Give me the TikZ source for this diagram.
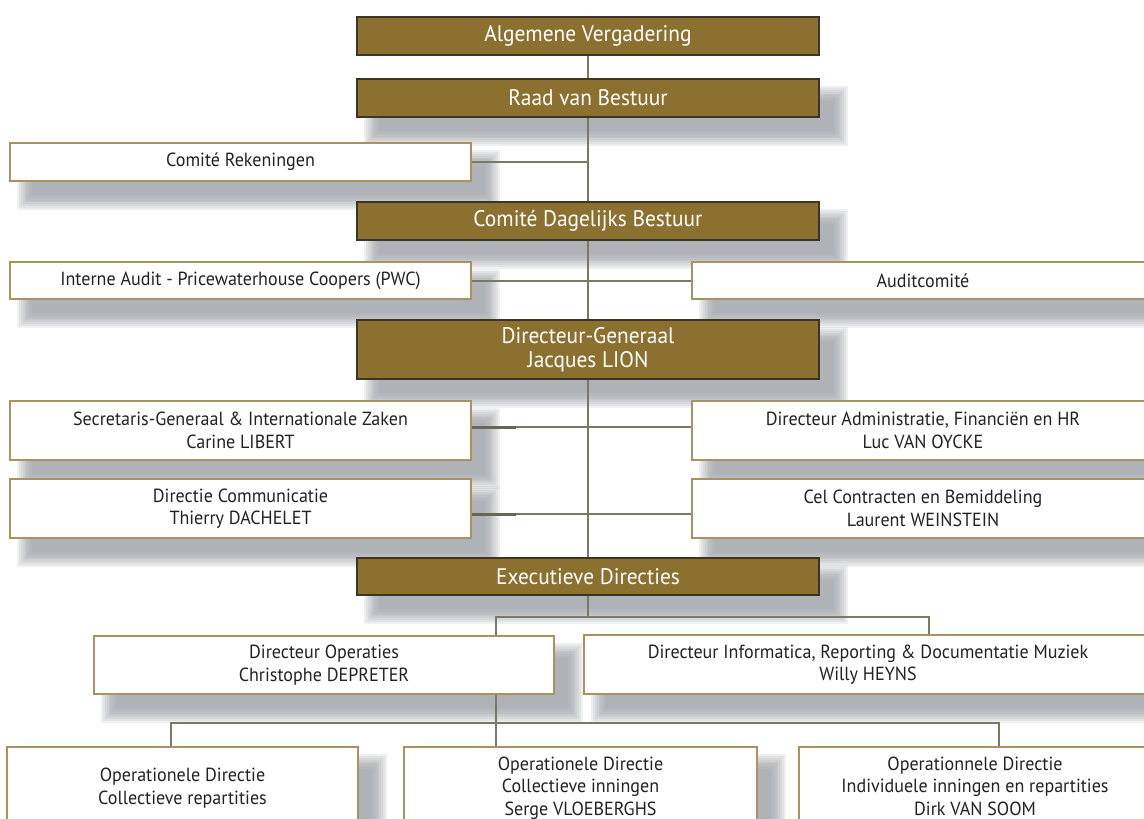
\documentclass[tikz,border=0pt]{standalone}
\usepackage{fontspec}
\setmainfont{PT Sans}[FakeStretch=0.95]
\usetikzlibrary{calc}
\pgfdeclarelayer{background}
\pgfsetlayers{background,main}
\definecolor{brownfill}{RGB}{140,112,48}
\definecolor{brownedge}{RGB}{60,52,38}
\definecolor{goldedge}{RGB}{168,148,98}
\definecolor{linec}{RGB}{124,120,102}
\definecolor{stubc}{RGB}{105,102,88}
\definecolor{shadowc}{RGB}{150,154,160}
\definecolor{textc}{RGB}{34,34,34}
\tikzset{
  brownbox/.style={draw=brownedge, line width=1.2pt, fill=brownfill, text=white,
    inner sep=0pt, align=center, font=\fontsize{22.5}{23.5}\selectfont},
  whitebox/.style={draw=goldedge, line width=1.3pt, fill=white, text=textc,
    inner sep=0pt, align=center, font=\fontsize{19}{22.5}\selectfont},
  lowbox/.style={whitebox, font=\fontsize{19}{22.5}\selectfont, text depth=0pt},
  conn/.style={draw=linec, line width=2pt},
  stub/.style={draw=stubc, line width=3pt},
}
\begin{document}
\begin{tikzpicture}[x=1pt,y=-1pt]
\useasboundingbox (0,0) rectangle (1144,819);
% brown boxes
\node[brownbox, minimum width=462pt, minimum height=38pt] (alg) at (588,36) {Algemene Vergadering};
\node[brownbox, minimum width=462pt, minimum height=38pt] (raad) at (588,98) {Raad van Bestuur};
\node[brownbox, minimum width=462pt, minimum height=38pt] (cdb) at (588,221) {Comité Dagelijks Bestuur};
\node[brownbox, minimum width=462pt, minimum height=59pt] (dg) at (588,349.5) {Directeur-Generaal\\Jacques LION};
\node[brownbox, minimum width=462pt, minimum height=37pt] (exe) at (588,576.5) {Executieve Directies};
% white boxes
\node[whitebox, minimum width=461pt, minimum height=38pt] (rek) at (240.5,162) {Comité Rekeningen};
\node[whitebox, minimum width=461pt, minimum height=37pt] (audit) at (240.5,280.5) {Interne Audit - Pricewaterhouse Coopers (PWC)};
\node[whitebox, minimum width=462pt, minimum height=37pt] (auditc) at (923,280.5) {Auditcomité};
\node[whitebox, minimum width=461pt, minimum height=59pt] (sec) at (240.5,430.5) {Secretaris-Generaal \& Internationale Zaken\\Carine LIBERT};
\node[whitebox, minimum width=462pt, minimum height=59pt] (adm) at (923,430.5) {Directeur Administratie, Financiën en HR\\Luc VAN OYCKE};
\node[whitebox, minimum width=461pt, minimum height=59pt] (com) at (240.5,508.5) {Directie Communicatie\\Thierry DACHELET};
\node[whitebox, minimum width=462pt, minimum height=59pt] (cel) at (923,508.5) {Cel Contracten en Bemiddeling\\Laurent WEINSTEIN};
\node[whitebox, minimum width=460pt, minimum height=58pt] (ops) at (324,665) {Directeur Operaties\\Christophe DEPRETER};
\node[whitebox, minimum width=568pt, minimum height=59pt] (inf) at (868,664.5) {Directeur Informatica, Reporting \& Documentatie Muziek\\Willy HEYNS};
\node[lowbox, minimum width=351pt, minimum height=78pt] (od1) at (182.5,786) {Operationele Directie\\Collectieve repartities};
\node[lowbox, minimum width=353pt, minimum height=78pt] (od2) at (580.5,786) {Operationele Directie\\Collectieve inningen\\Serge VLOEBERGHS};
\node[lowbox, minimum width=352pt, minimum height=78pt] (od3) at (975,786) {Operationnele Directie\\Individuele inningen en repartities\\Dirk VAN SOOM};
% shadows
\begin{pgfonlayer}{background}
\foreach \n in {raad,cdb,dg,exe,rek,audit,auditc,sec,adm,com,cel,ops,inf,od1,od2,od3}{
  \foreach \k in {0,...,8}{
    \fill[shadowc, opacity=0.15]
      ($(\n.north west)+(18-10+\k*1.8,18-10+\k*1.8)$) rectangle
      ($(\n.south east)+(18+10-\k*1.8,18+10-\k*1.8)$);
  }
}
\end{pgfonlayer}
% connectors
\draw[conn] (alg.south) -- (raad.north);
\draw[conn] (raad.south) -- (cdb.north);
\draw[conn] (cdb.south) -- (dg.north);
\draw[conn] (dg.south) -- (exe.north);
\draw[conn] (rek.east) -- (rek.east -| raad.south);
\draw[conn] (audit.east) -- (auditc.west);
\draw[conn] ([yshift=3.5pt]sec.east) -- ([yshift=3.5pt]adm.west);
\draw[conn] ([yshift=-5.5pt]com.east) -- ([yshift=-5.5pt]cel.west);
\draw[stub] ([yshift=3.5pt]sec.east) -- ++(44,0);
\draw[stub] ([yshift=-5.5pt]com.east) -- ++(44,0);
\coordinate (b1) at (496,617);
\coordinate (b2) at (929,617);
\coordinate (c1) at (171,723);
\coordinate (c2) at (496,723);
\coordinate (c3) at (999,723);
\draw[conn] (exe.south) -- (exe.south |- b1);
\draw[conn] (b1 |- ops.north) -- (b1) -- (b2) -- (b2 |- inf.north);
\draw[conn] (c2 |- ops.south) -- (c2);
\draw[conn] (c1 |- od1.north) -- (c1) -- (c3) -- (c3 |- od3.north);
\draw[conn] (c2) -- (c2 |- od2.north);
\end{tikzpicture}
\end{document}
